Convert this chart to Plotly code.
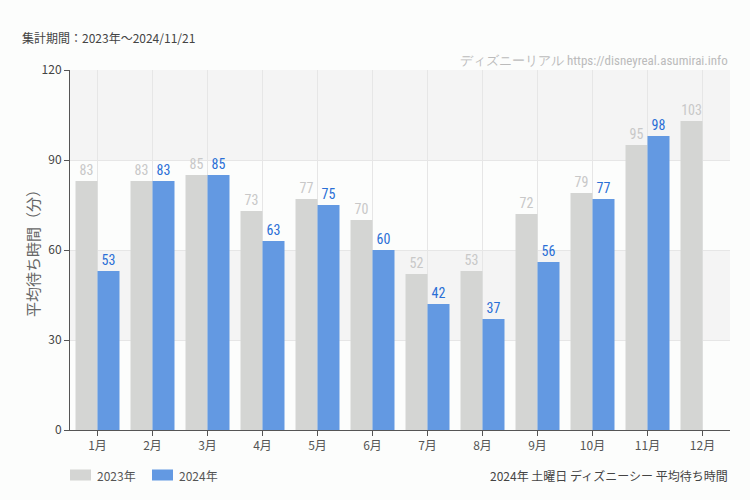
import plotly.graph_objects as go

months = ["1月", "2月", "3月", "4月", "5月", "6月", "7月", "8月", "9月", "10月", "11月", "12月"]
y2023 = [83, 83, 85, 73, 77, 70, 52, 53, 72, 79, 95, 103]
y2024 = [53, 83, 85, 63, 75, 60, 42, 37, 56, 77, 98, None]
yticks = [0, 30, 60, 90, 120]
series_names = ["2023年", "2024年"]

GRAY = "#d4d5d3"
BLUE = "#6399e2"
NARROW = "Liberation Sans Narrow, Roboto Condensed, Arial Narrow, sans-serif"
BASE = "Noto Sans CJK JP, Noto Sans, sans-serif"

PW, PH = 660.0, 360.0  # plot area in px

fig = go.Figure()
fig.add_trace(go.Bar(
    x=months, y=y2023, name=series_names[0], marker=dict(color=GRAY, line=dict(width=0)),
    text=[str(v) for v in y2023], textposition="outside",
    textfont=dict(color="#c8c8c8", size=14, family=NARROW), cliponaxis=False,
))
fig.add_trace(go.Bar(
    x=months, y=y2024, name=series_names[1], marker=dict(color=BLUE, line=dict(width=0)),
    text=[str(v) if v is not None else "" for v in y2024], textposition="outside",
    textfont=dict(color="#2a6fd6", size=14, family=NARROW), cliponaxis=False,
))

shapes = [
    dict(type="rect", xref="paper", yref="y", x0=0, x1=1, y0=90, y1=120,
         fillcolor="#f4f4f4", line=dict(width=0), layer="below"),
    dict(type="rect", xref="paper", yref="y", x0=0, x1=1, y0=30, y1=60,
         fillcolor="#f4f4f4", line=dict(width=0), layer="below"),
]

annotations = [
    dict(text="集計期間：2023年～2024/11/21", xref="paper", yref="paper",
         x=-50/PW, y=1 + 33/PH, xanchor="left", yanchor="middle", showarrow=False,
         font=dict(size=12, color="#444")),
    dict(text="ディズニーリアル https://disneyreal.asumirai.info", xref="paper", yref="paper",
         x=1, y=1 + 10/PH, xanchor="right", yanchor="middle", showarrow=False,
         font=dict(size=13, color="#bbbbbb", family=NARROW)),
    dict(text="2024年 土曜日 ディズニーシー 平均待ち時間", xref="paper", yref="paper",
         x=1, y=-45/PH, xanchor="right", yanchor="middle", showarrow=False,
         font=dict(size=12, color="#444")),
    dict(text="平均待ち時間（分）", xref="paper", yref="paper",
         x=-38/PW, y=0.5, xanchor="center", yanchor="middle", textangle=-90, showarrow=False,
         font=dict(size=15, color="#666")),
]

# custom legend (swatch + label) at bottom-left
legend_x = [0, 82]
colors = [GRAY, BLUE]
for name, lx, c in zip(series_names, legend_x, colors):
    shapes.append(dict(type="rect", xref="paper", yref="paper",
                       x0=lx/PW, x1=(lx+21)/PW, y0=-(45+5.5)/PH, y1=-(45-5.5)/PH,
                       fillcolor=c, line=dict(width=0)))
    annotations.append(dict(text=name, xref="paper", yref="paper",
                            x=(lx+25)/PW, y=-45/PH, xanchor="left", yanchor="middle",
                            showarrow=False, font=dict(size=12, color="#555")))

fig.update_layout(
    width=750, height=500,
    margin=dict(l=70, r=20, t=70, b=70),
    paper_bgcolor="#fcfdfc", plot_bgcolor="#fcfdfc",
    font=dict(family=BASE, size=12, color="#555"),
    barmode="group", bargap=0.2, bargroupgap=0,
    showlegend=False,
    shapes=shapes,
    annotations=annotations,
    xaxis=dict(
        showline=True, linecolor="#555", linewidth=1,
        ticks="outside", ticklen=5, tickcolor="#555",
        showgrid=True, gridcolor="#e6e6e6",
        tickfont=dict(size=12, color="#555"),
    ),
    yaxis=dict(
        range=[0, 120], tickvals=yticks, showline=True, linecolor="#555", linewidth=1,
        ticks="outside", ticklen=5, tickcolor="#555",
        showgrid=True, gridcolor="#e6e6e6", zeroline=False,
        tickfont=dict(size=12, color="#444"),
    ),
)

fig.write_html("out.html")
